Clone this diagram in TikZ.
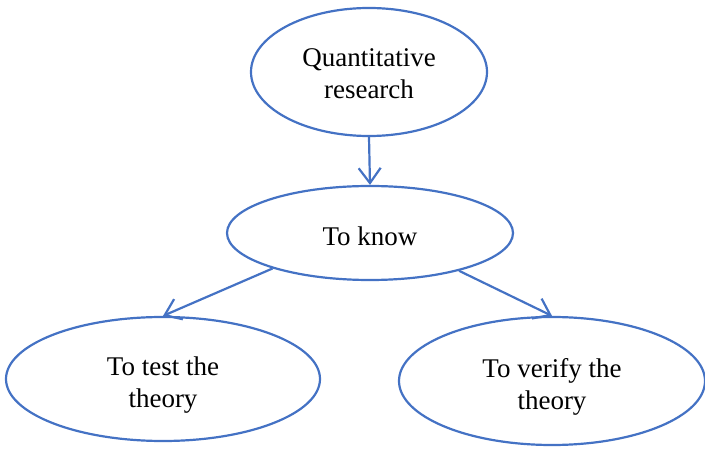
\documentclass[tikz,border=0pt]{standalone}
\usepackage{fontspec}
\setmainfont{Liberation Serif}
\usetikzlibrary{shapes.geometric,arrows.meta}
\definecolor{bl}{HTML}{4472C4}
\newcommand{\lowtxt}[2]{\raisebox{-#1}[\height][\depth]{\begin{tabular}{@{}c@{}}#2\end{tabular}}}
\begin{document}
\begin{tikzpicture}[x=1pt,y=1pt,
  oval/.style={ellipse,draw=bl,line width=2.2pt,inner sep=0pt,align=center,font=\fontsize{27}{32}\selectfont},
  conn/.style={draw=bl,line width=2.2pt,-{Straight Barb[length=15pt,width=22pt,line width=2.2pt]}}]
\useasboundingbox (0,0) rectangle (705,-449);
\node[oval,minimum width=236pt,minimum height=128pt] (top) at (369,-72) {\lowtxt{4pt}{Quantitative\\research}};
\node[oval,minimum width=286pt,minimum height=94pt] (mid) at (370,-233) {\lowtxt{6pt}{To know}};
\node[oval,minimum width=314pt,minimum height=124pt] (left) at (163,-379) {\lowtxt{6pt}{To test the\\theory}};
\node[oval,minimum width=306pt,minimum height=128pt] (right) at (552,-381) {\lowtxt{6pt}{To verify the\\theory}};
\draw[conn] (top.south) -- (mid.north);
\draw[conn] (mid.200.8) -- (left.north);
\draw[conn] (mid.-23.3) -- (right.north);
\end{tikzpicture}
\end{document}
